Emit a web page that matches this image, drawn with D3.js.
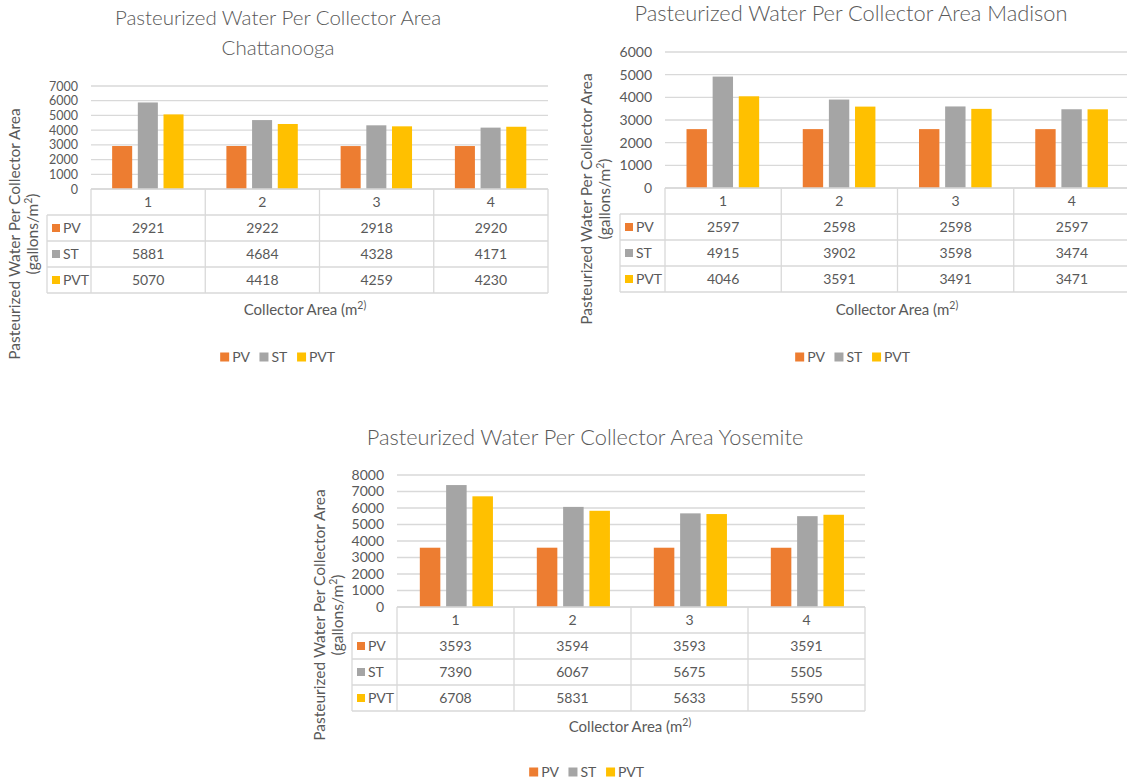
<!DOCTYPE html>
<html>
<head>
<meta charset="utf-8">
<script src="https://cdn.jsdelivr.net/npm/d3@7/dist/d3.min.js"></script>
<style>
  html, body { margin: 0; padding: 0; background: #fff; }
  svg { display: block; font-family: Lato, "Open Sans", sans-serif; }
</style>
</head>
<body>
<svg id="chart" width="1127" height="784"></svg>
<script>
// Collector area categories and series
const categories = ["1", "2", "3", "4"];
const seriesNames = ["PV", "ST", "PVT"];
const seriesColors = ["#ED7D31", "#A5A5A5", "#FFC000"];

// Pasteurized water per collector area (gallons/m²)
const chattanoogaPV  = [2921, 2922, 2918, 2920];
const chattanoogaST  = [5881, 4684, 4328, 4171];
const chattanoogaPVT = [5070, 4418, 4259, 4230];

const madisonPV  = [2597, 2598, 2598, 2597];
const madisonST  = [4915, 3902, 3598, 3474];
const madisonPVT = [4046, 3591, 3491, 3471];

const yosemitePV  = [3593, 3594, 3593, 3591];
const yosemiteST  = [7390, 6067, 5675, 5505];
const yosemitePVT = [6708, 5831, 5633, 5590];

const chattanoogaTicks = [0, 1000, 2000, 3000, 4000, 5000, 6000, 7000];
const madisonTicks     = [0, 1000, 2000, 3000, 4000, 5000, 6000];
const yosemiteTicks    = [0, 1000, 2000, 3000, 4000, 5000, 6000, 7000, 8000];

const TEXT = "#595959";
const GRID = "#D9D9D9";
const svg = d3.select("#chart");

function drawPanel(p) {
  const g = svg.append("g");
  const series = p.series;

  // Title
  p.titleLines.forEach((t, i) => {
    g.append("text")
      .attr("x", p.titleX).attr("y", p.titleY + i * 30)
      .attr("text-anchor", "middle")
      .attr("font-size", p.titleSize).attr("font-weight", 300)
      .attr("fill", TEXT).text(t);
  });

  const yMax = d3.max(p.ticks);
  const y = d3.scaleLinear().domain([0, yMax]).range([p.bottom, p.top]);
  const x0 = d3.scaleBand().domain(categories).range([p.left, p.right]);
  const bw = x0.bandwidth();
  const x1 = d3.scaleBand().domain(seriesNames)
    .range([bw * p.groupStart, bw * p.groupEnd]).paddingInner(0.22);

  // Gridlines
  g.append("g").selectAll("line").data(p.ticks).join("line")
    .attr("x1", p.left).attr("x2", p.right)
    .attr("y1", d => y(d)).attr("y2", d => y(d))
    .attr("stroke", GRID).attr("stroke-width", 1.3);

  // Value axis labels
  const ax = g.append("g").attr("transform", `translate(${p.left - 13},0)`)
    .call(d3.axisLeft(y).tickValues(p.ticks).tickSize(0).tickPadding(0).tickFormat(d3.format("d")));
  ax.select(".domain").remove();
  ax.selectAll("text").attr("font-size", p.tickSize).attr("font-family", "Lato, sans-serif").attr("fill", TEXT);

  // Bars
  const groups = g.append("g").selectAll("g").data(categories).join("g")
    .attr("transform", d => `translate(${x0(d)},0)`);
  groups.selectAll("rect")
    .data((c, ci) => seriesNames.map((s, si) => ({ s, si, v: series[si][ci] })))
    .join("rect")
    .attr("x", d => x1(d.s))
    .attr("width", x1.bandwidth())
    .attr("y", d => y(d.v))
    .attr("height", d => y(0) - y(d.v))
    .attr("fill", d => seriesColors[d.si]);

  // Data table beneath the category axis
  const rowH = 26;
  const t0 = y(0);
  const tg = g.append("g").attr("font-size", 14).attr("fill", TEXT);
  const border = (xa, ya, xb, yb) => tg.append("line")
    .attr("x1", xa).attr("y1", ya).attr("x2", xb).attr("y2", yb)
    .attr("stroke", GRID).attr("stroke-width", 1.3);

  // horizontal rules
  border(p.left, t0, p.right, t0);
  for (let r = 1; r <= 4; r++) border(p.tableLeft, t0 + r * rowH, p.right, t0 + r * rowH);
  // vertical rules
  border(p.tableLeft, t0 + rowH, p.tableLeft, t0 + 4 * rowH);
  categories.forEach(c => border(x0(c), t0, x0(c), t0 + 4 * rowH));
  border(p.right, t0, p.right, t0 + 4 * rowH);

  // header row
  tg.selectAll("text.hdr").data(categories).join("text").attr("class", "hdr")
    .attr("x", d => x0(d) + bw / 2).attr("y", t0 + rowH / 2 + 5)
    .attr("text-anchor", "middle").text(d => d);

  // series rows
  seriesNames.forEach((s, si) => {
    const cy = t0 + rowH * (si + 1) + rowH / 2;
    tg.append("rect").attr("x", p.tableLeft + 5).attr("y", cy - 4)
      .attr("width", 8).attr("height", 8).attr("fill", seriesColors[si]);
    tg.append("text").attr("x", p.tableLeft + 16).attr("y", cy + 5).text(s);
    tg.selectAll(null).data(categories).join("text")
      .attr("x", d => x0(d) + bw / 2).attr("y", cy + 5)
      .attr("text-anchor", "middle").text((d, ci) => series[si][ci]);
  });

  // Category axis title
  const xt = g.append("text").attr("x", p.xTitleX).attr("y", p.xTitleY)
    .attr("text-anchor", "middle").attr("font-size", 15).attr("fill", TEXT);
  xt.append("tspan").text("Collector Area (m");
  xt.append("tspan").attr("dy", -6).attr("font-size", 10.5).text("2)");

  // Value axis title (two lines, rotated)
  const yt = g.append("g")
    .attr("transform", `translate(${p.yTitleX},${p.yTitleY}) rotate(-90)`)
    .attr("font-size", 15.5).attr("fill", TEXT).attr("text-anchor", "middle");
  yt.append("text").attr("x", 0).attr("y", 5).text("Pasteurized Water Per Collector Area");
  const l2 = yt.append("text").attr("x", 0).attr("y", 23);
  l2.append("tspan").text("(gallons/m");
  l2.append("tspan").attr("dy", -6).attr("font-size", 10.5).text("2");
  l2.append("tspan").attr("dy", 6).text(")");

  // Legend
  const lg = g.append("g").attr("font-size", 14).attr("fill", TEXT);
  const items = lg.selectAll("g").data(seriesNames).join("g");
  items.append("rect").attr("width", 9).attr("height", 9).attr("y", -4.5)
    .attr("fill", (d, i) => seriesColors[i]);
  items.append("text").attr("x", 12).attr("y", 5).text(d => d);
  let cx = 0;
  items.each(function () {
    const w = this.getBBox().width;
    d3.select(this).attr("transform", `translate(${cx},0)`);
    cx += w + 9;
  });
  const total = cx - 9;
  lg.attr("transform", `translate(${p.legendX - total / 2},${p.legendY})`);
}

drawPanel({
  series: [chattanoogaPV, chattanoogaST, chattanoogaPVT],
  ticks: chattanoogaTicks, tickSize: 12.5,
  titleLines: ["Pasteurized Water Per Collector Area", "Chattanooga"],
  titleX: 278, titleY: 25, titleSize: 20.5,
  left: 91, right: 548, top: 86, bottom: 189,
  groupStart: 0.185, groupEnd: 0.81,
  tableLeft: 47,
  xTitleX: 305, xTitleY: 315,
  yTitleX: 15, yTitleY: 234,
  legendX: 278, legendY: 357
});

drawPanel({
  series: [madisonPV, madisonST, madisonPVT],
  ticks: madisonTicks, tickSize: 14,
  titleLines: ["Pasteurized Water Per Collector Area Madison"],
  titleX: 851, titleY: 21, titleSize: 21.8,
  left: 665, right: 1130, top: 52, bottom: 188,
  groupStart: 0.185, groupEnd: 0.81,
  tableLeft: 620,
  xTitleX: 897, xTitleY: 315,
  yTitleX: 587, yTitleY: 199,
  legendX: 853, legendY: 357
});

drawPanel({
  series: [yosemitePV, yosemiteST, yosemitePVT],
  ticks: yosemiteTicks, tickSize: 14,
  titleLines: ["Pasteurized Water Per Collector Area Yosemite"],
  titleX: 585, titleY: 445, titleSize: 21.8,
  left: 397, right: 865, top: 475, bottom: 607,
  groupStart: 0.195, groupEnd: 0.82,
  tableLeft: 352,
  xTitleX: 630, xTitleY: 732,
  yTitleX: 320, yTitleY: 615,
  legendX: 587, legendY: 772
});
</script>
</body>
</html>
